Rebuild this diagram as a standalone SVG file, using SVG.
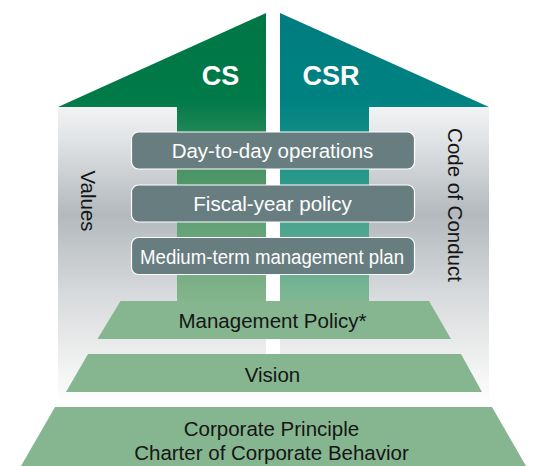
<svg xmlns="http://www.w3.org/2000/svg" width="536" height="466" viewBox="0 0 536 466">
  <style>
    .lbl { font-family: "Liberation Sans", Arial, sans-serif; font-size: 20.5px; text-anchor: middle; }
    .dark { fill: #151515; }
    .white { fill: #ffffff; }
    .head { font-family: "Liberation Sans", Arial, sans-serif; font-size: 27px; font-weight: bold; fill: #ffffff; text-anchor: middle; }
    .tier { fill: #86b690; }
    .box { fill: #687d80; stroke: #ffffff; stroke-width: 1.2; }
  </style>
  <defs>
    <linearGradient id="bgGrad" gradientUnits="userSpaceOnUse" x1="0" y1="107" x2="0" y2="405">
      <stop offset="0" stop-color="#f2f3f4"/>
      <stop offset="0.12" stop-color="#dfe2e4"/>
      <stop offset="0.36" stop-color="#b3b9bd"/>
      <stop offset="0.62" stop-color="#d6d9db"/>
      <stop offset="0.82" stop-color="#eceded"/>
      <stop offset="1" stop-color="#ffffff"/>
    </linearGradient>
    <linearGradient id="csGrad" gradientUnits="userSpaceOnUse" x1="0" y1="13" x2="0" y2="301">
      <stop offset="0" stop-color="#007645"/>
      <stop offset="0.3" stop-color="#007a48"/>
      <stop offset="0.55" stop-color="#4a9466"/>
      <stop offset="1" stop-color="#84b58c"/>
    </linearGradient>
    <linearGradient id="csrGrad" gradientUnits="userSpaceOnUse" x1="0" y1="13" x2="0" y2="301">
      <stop offset="0" stop-color="#007c7f"/>
      <stop offset="0.3" stop-color="#008282"/>
      <stop offset="0.55" stop-color="#25978a"/>
      <stop offset="1" stop-color="#80b794"/>
    </linearGradient>
  </defs>

  <!-- shaded backdrop behind the house -->
  <rect x="58" y="107" width="431" height="300" fill="url(#bgGrad)"/>
  <rect x="266" y="107" width="14" height="248" fill="#ffffff"/>

  <!-- CS / CSR half-arrows -->
  <g id="arrow-cs">
    <polygon points="266,13 58,107 177,107 177,301 266,301" fill="url(#csGrad)"/>
    <text class="head" x="220.5" y="84.5">CS</text>
  </g>
  <g id="arrow-csr">
    <polygon points="280,13 489,107 369,107 369,301 280,301" fill="url(#csrGrad)"/>
    <text class="head" x="331" y="84.5">CSR</text>
  </g>

  <!-- side labels -->
  <g id="values">
    <text class="lbl dark" transform="translate(81,201) rotate(90)">Values</text>
  </g>
  <g id="code-of-conduct">
    <text class="lbl dark" transform="translate(447.5,205) rotate(90)" font-size="20.5">Code of Conduct</text>
  </g>

  <!-- planning boxes -->
  <g id="day-to-day">
    <rect class="box" x="131.5" y="132" width="283" height="37" rx="7"/>
    <text class="lbl white" x="272.5" y="157.5">Day-to-day operations</text>
  </g>
  <g id="fiscal-year">
    <rect class="box" x="131.5" y="185" width="283" height="37" rx="7"/>
    <text class="lbl white" x="272.5" y="210.5">Fiscal-year policy</text>
  </g>
  <g id="medium-term">
    <rect class="box" x="131.5" y="237.5" width="283" height="37" rx="7"/>
    <text class="lbl white" x="272" y="264" textLength="264" lengthAdjust="spacingAndGlyphs">Medium-term management plan</text>
  </g>

  <!-- foundation tiers -->
  <g id="management-policy">
    <polygon class="tier" points="120.5,301 429,301 451,339 97.5,339"/>
    <text class="lbl dark" x="272.5" y="328">Management Policy*</text>
  </g>
  <g id="vision">
    <polygon class="tier" points="88,354 461,354 482,392 66,392"/>
    <text class="lbl dark" x="272.5" y="381.5">Vision</text>
  </g>
  <g id="corporate-principle">
    <polygon class="tier" points="55,407 492,407 526,466 21,466"/>
    <text class="lbl dark" x="271.5" y="436">Corporate Principle</text>
    <text class="lbl dark" x="271.5" y="460">Charter of Corporate Behavior</text>
  </g>

  <!-- the layout has no connectors; group kept for structure -->
  <g id="connectors"/>
</svg>
